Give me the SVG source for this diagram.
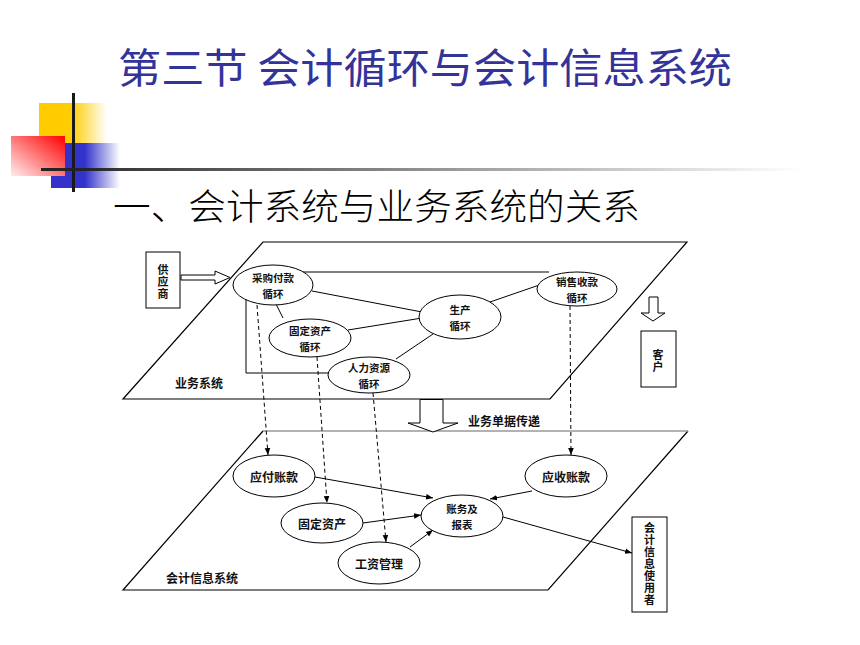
<svg xmlns="http://www.w3.org/2000/svg" width="860" height="645" viewBox="0 0 860 645">
<defs>
<style>
.t{font-family:"Noto Sans CJK SC","Noto Sans",sans-serif;font-size:12px;font-weight:bold;fill:#111;text-anchor:middle;dominant-baseline:central}
.s{font-size:10.5px}
.v{font-family:"Noto Sans CJK SC","Noto Sans",sans-serif;font-size:11px;font-weight:bold;fill:#111;text-anchor:middle;writing-mode:vertical-rl;text-orientation:upright;letter-spacing:1px}
.e{fill:#fff;stroke:#000;stroke-width:1}
.ln{fill:none;stroke:#000;stroke-width:1}
.ds{fill:none;stroke:#000;stroke-width:1;stroke-dasharray:4 3}
.box{fill:#fff;stroke:#000;stroke-width:1}
.hol{fill:#fff;stroke:#000;stroke-width:1}
</style>
<marker id="ah" viewBox="0 0 10 10" refX="10" refY="5" markerWidth="7" markerHeight="7" orient="auto" markerUnits="userSpaceOnUse">
<path d="M0,1 L10,5 L0,9 z" fill="#000"/>
</marker>
<linearGradient id="gy" x1="0" y1="0" x2="1" y2="0">
<stop offset="0" stop-color="#FFCC00"/><stop offset="0.47" stop-color="#FFCC00"/><stop offset="1" stop-color="#FFCC00" stop-opacity="0"/>
</linearGradient>
<linearGradient id="gb" x1="0" y1="0" x2="1" y2="0">
<stop offset="0" stop-color="#3333CC"/><stop offset="0.49" stop-color="#3333CC"/><stop offset="1" stop-color="#3333CC" stop-opacity="0"/>
</linearGradient>
<linearGradient id="gr" x1="1" y1="0" x2="0" y2="1">
<stop offset="0" stop-color="#FF0000"/><stop offset="1" stop-color="#FFEEEE"/>
</linearGradient>
<linearGradient id="gl" x1="0" y1="0" x2="1" y2="0">
<stop offset="0" stop-color="#222"/><stop offset="1" stop-color="#222" stop-opacity="0"/>
</linearGradient>
</defs>
<rect width="860" height="645" fill="#fff"/>

<g id="decoration">
<rect x="39" y="103" width="68" height="40" fill="url(#gy)"/>
<rect x="51" y="143" width="69" height="45" fill="url(#gb)"/>
<rect x="11" y="136" width="54" height="40" fill="url(#gr)"/>
<rect x="72" y="93" width="3" height="99" fill="#1a1a1a"/>
<rect x="41" y="168" width="760" height="3" fill="url(#gl)"/>
</g>

<g id="title">
<text x="118" y="65" font-family="'Noto Sans CJK SC',sans-serif" font-size="41" fill="#333399" dominant-baseline="central" textLength="614" lengthAdjust="spacingAndGlyphs">第三节 会计循环与会计信息系统</text>
<text x="113" y="204" font-family="'Noto Sans CJK SC',sans-serif" font-size="36" font-weight="300" fill="#000" dominant-baseline="central" textLength="527" lengthAdjust="spacingAndGlyphs">一、会计系统与业务系统的关系</text>
</g>

<g id="planes">
<polygon points="263,242 687,242 550,399 123,399" fill="none" stroke="#000" stroke-width="1.2"/>
<path d="M688,431 L548,590 L123,590 L263,431" fill="none" stroke="#000" stroke-width="1.2"/>
<line x1="263" y1="431" x2="688" y2="431" stroke="#999" stroke-width="1.5"/>
<text class="t" x="199" y="382">业务系统</text>
<text class="t" x="202" y="577">会计信息系统</text>
</g>

<g id="connectors">
<path class="ln" d="M549,272 H246 V373 H340"/>
<line class="ln" x1="312" y1="291" x2="422" y2="312"/>
<line class="ln" x1="348" y1="330" x2="422" y2="318"/>
<line class="ln" x1="396" y1="359" x2="433" y2="334"/>
<line class="ln" x1="275" y1="302" x2="283" y2="318"/>
<line class="ln" x1="490" y1="302" x2="548" y2="282"/>
<line class="ds" x1="257" y1="305" x2="268" y2="455" marker-end="url(#ah)"/>
<line class="ds" x1="317" y1="357" x2="327" y2="503" marker-end="url(#ah)"/>
<line class="ds" x1="373" y1="393" x2="386" y2="542" marker-end="url(#ah)"/>
<line class="ds" x1="570" y1="306" x2="571" y2="455" marker-end="url(#ah)"/>
<line class="ln" x1="315" y1="477" x2="433" y2="498" marker-end="url(#ah)"/>
<line class="ln" x1="363" y1="523" x2="421" y2="515" marker-end="url(#ah)"/>
<line class="ln" x1="410" y1="547" x2="433" y2="530" marker-end="url(#ah)"/>
<line class="ln" x1="532" y1="491" x2="490" y2="499" marker-end="url(#ah)"/>
<line class="ln" x1="503" y1="517" x2="632" y2="553" marker-end="url(#ah)"/>
<polygon class="hol" points="181,275 215,275 215,271 230,277.5 215,284 215,280 181,280"/>
<polygon class="hol" points="649,297 658,297 658,313 665,313 653,321 641,313 649,313"/>
<polygon class="hol" points="420,399.5 443,399.5 443,423 458,423 433,432 408,423 420,423"/>
<text class="t" x="504" y="420">业务单据传递</text>
</g>

<g id="supplier">
<rect class="box" x="146" y="252" width="34" height="56"/>
<text class="v" x="163" y="282">供应商</text>
</g>

<g id="customer">
<rect class="box" x="641" y="331" width="35" height="56"/>
<text class="v" x="658" y="361">客户</text>
</g>

<g id="purchase">
<ellipse class="e" cx="273" cy="285" rx="40" ry="20"/>
<text class="t s" x="273" y="277">采购付款</text>
<text class="t s" x="273" y="293">循环</text>
</g>

<g id="fixedcycle">
<ellipse class="e" cx="310" cy="338" rx="41" ry="19"/>
<text class="t s" x="310" y="330">固定资产</text>
<text class="t s" x="310" y="346">循环</text>
</g>

<g id="hrcycle">
<ellipse class="e" cx="369" cy="375" rx="41" ry="18"/>
<text class="t s" x="369" y="367">人力资源</text>
<text class="t s" x="369" y="383">循环</text>
</g>

<g id="production">
<ellipse class="e" cx="460" cy="317" rx="41" ry="22"/>
<text class="t s" x="460" y="309">生产</text>
<text class="t s" x="460" y="325">循环</text>
</g>

<g id="sales">
<ellipse class="e" cx="577" cy="289" rx="40" ry="17"/>
<text class="t s" x="577" y="281">销售收款</text>
<text class="t s" x="577" y="297">循环</text>
</g>

<g id="payable">
<ellipse class="e" cx="274" cy="476" rx="41" ry="21"/>
<text class="t" x="274" y="476">应付账款</text>
</g>

<g id="fixedassets">
<ellipse class="e" cx="322" cy="523" rx="41" ry="20"/>
<text class="t" x="322" y="523">固定资产</text>
</g>

<g id="payroll">
<ellipse class="e" cx="379" cy="563" rx="41" ry="21"/>
<text class="t" x="379" y="563">工资管理</text>
</g>

<g id="ledger">
<ellipse class="e" cx="462" cy="516" rx="41" ry="21"/>
<text class="t s" x="462" y="508">账务及</text>
<text class="t s" x="462" y="524">报表</text>
</g>

<g id="receivable">
<ellipse class="e" cx="566" cy="476" rx="41" ry="21"/>
<text class="t" x="566" y="476">应收账款</text>
</g>

<g id="users">
<rect class="box" x="632" y="517" width="35" height="95"/>
<text class="v" x="649.5" y="564">会计信息使用者</text>
</g>
</svg>
